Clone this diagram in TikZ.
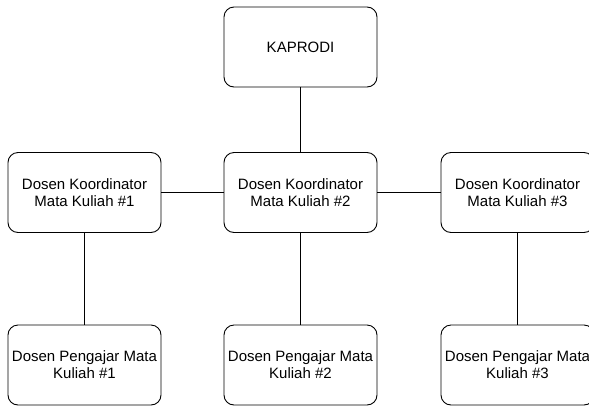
\documentclass[tikz,border=0pt]{standalone}
\usepackage{fontspec}
\setmainfont{Liberation Sans}
\usepackage{tikz}

\begin{document}
\begin{tikzpicture}[x=1pt,y=-1pt,
	kotak/.style={shape=rectangle, draw, rounded corners=10pt, line width=0.9pt,
		minimum width=153pt, minimum height=80pt, inner sep=1pt, align=center,
		font=\fontsize{15}{17}\selectfont}]
	\useasboundingbox (0,0) rectangle (589,405);
	\node[kotak] (kaprodi) at (300.5,47) {KAPRODI};
	\node[kotak] (k1) at (84.5,192.5) {Dosen Koordinator\\Mata Kuliah \#1};
	\node[kotak] (k2) at (300.5,192.5) {Dosen Koordinator\\Mata Kuliah \#2};
	\node[kotak] (k3) at (517.5,192.5) {Dosen Koordinator\\Mata Kuliah \#3};
	\node[kotak] (p1) at (84.5,365) {Dosen Pengajar Mata\\Kuliah \#1};
	\node[kotak] (p2) at (300.5,365) {Dosen Pengajar Mata\\Kuliah \#2};
	\node[kotak] (p3) at (517.5,365) {Dosen Pengajar Mata\\Kuliah \#3};
	
	\path [-, line width=0.9pt] (kaprodi) edge (k2);
	\path [-, line width=0.9pt] (k1) edge (k2);
	\path [-, line width=0.9pt] (k2) edge (k3);
	\path [-, line width=0.9pt] (k1) edge (p1);
	\path [-, line width=0.9pt] (k2) edge (p2);
	\path [-, line width=0.9pt] (k3) edge (p3);
\end{tikzpicture}
\end{document}
